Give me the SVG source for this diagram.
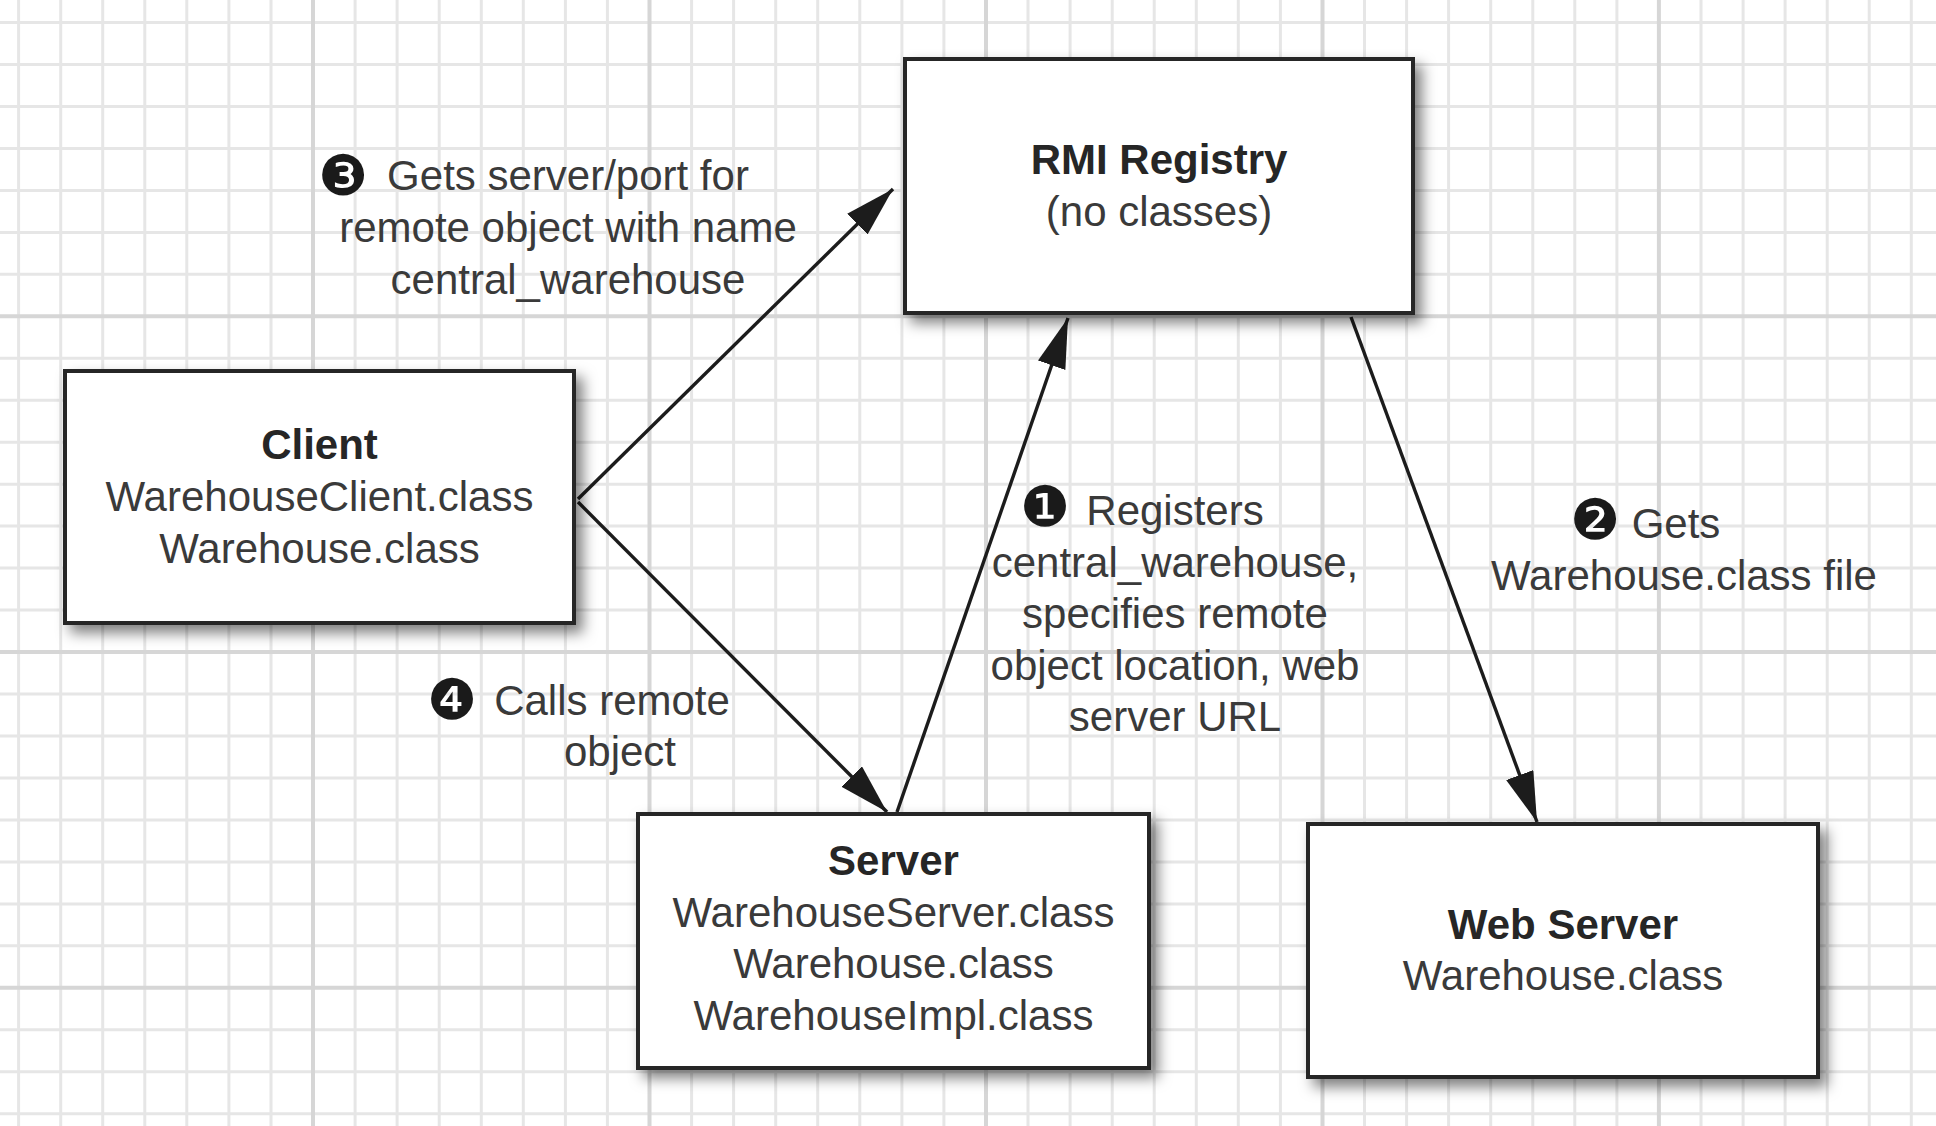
<svg xmlns="http://www.w3.org/2000/svg" width="1936" height="1126" viewBox="0 0 1936 1126">
<style>
.minor{stroke:#e6e6e6;stroke-width:3;fill:none}
.major{stroke:#d6d6d6;stroke-width:4;fill:none}
.box{fill:#ffffff;stroke:#262626;stroke-width:4}
.t{font-family:"Liberation Sans",Arial,Helvetica,sans-serif;font-size:42px;fill:#3a3a3a;text-anchor:middle}
.b{font-weight:bold;fill:#262626}
.num{font-family:"DejaVu Sans",sans-serif;font-size:56px;fill:#1a1a1a;text-anchor:middle}
.arrow{stroke:#1c1c1c;stroke-width:3.4;fill:none;marker-end:url(#ah)}
</style>
<defs>
<marker id="ah" markerUnits="userSpaceOnUse" markerWidth="52" markerHeight="30" refX="50" refY="14.5" orient="auto">
<path d="M0,0 L50,14.5 L0,29 z" fill="#1c1c1c"/>
</marker>
<filter id="sh" x="-10%" y="-10%" width="130%" height="130%">
<feDropShadow dx="7" dy="8" stdDeviation="7" flood-color="#000" flood-opacity="0.5"/>
</filter>
</defs>
<rect x="0" y="0" width="1936" height="1126" fill="#ffffff"/>
<g id="grid">
<path class="minor" d="M18.6,0V1126M60.7,0V1126M102.7,0V1126M144.8,0V1126M186.8,0V1126M228.9,0V1126M271,0V1126M355.1,0V1126M397.1,0V1126M439.2,0V1126M481.3,0V1126M523.3,0V1126M565.4,0V1126M607.4,0V1126M691.6,0V1126M733.6,0V1126M775.7,0V1126M817.7,0V1126M859.8,0V1126M901.9,0V1126M943.9,0V1126M1028,0V1126M1070.1,0V1126M1112.2,0V1126M1154.2,0V1126M1196.3,0V1126M1238.3,0V1126M1280.4,0V1126M1364.5,0V1126M1406.6,0V1126M1448.6,0V1126M1490.7,0V1126M1532.8,0V1126M1574.8,0V1126M1616.9,0V1126M1701,0V1126M1743.1,0V1126M1785.1,0V1126M1827.2,0V1126M1869.2,0V1126M1911.3,0V1126"/>
<path class="minor" d="M0,22.5H1936M0,64.5H1936M0,106.4H1936M0,148.4H1936M0,190.4H1936M0,232.4H1936M0,274.3H1936M0,358.3H1936M0,400.2H1936M0,442.2H1936M0,484.2H1936M0,526.1H1936M0,568.1H1936M0,610.1H1936M0,694H1936M0,736H1936M0,778H1936M0,819.9H1936M0,861.9H1936M0,903.9H1936M0,945.8H1936M0,1029.8H1936M0,1071.8H1936M0,1113.7H1936"/>
<path class="major" d="M313,0V1126M649.5,0V1126M986,0V1126M1322.5,0V1126M1658.9,0V1126M0,316.3H1936M0,652.1H1936M0,987.8H1936"/>
</g>
<g id="connectors">
<line id="c3" class="arrow" x1="578" y1="499" x2="893" y2="189"/>
<line id="c4" class="arrow" x1="578" y1="502" x2="887" y2="812"/>
<line id="c1" class="arrow" x1="897" y1="812" x2="1068" y2="318"/>
<line id="c2" class="arrow" x1="1351" y1="317" x2="1537" y2="822"/>
</g>
<g id="rmi">
<rect class="box" x="905" y="59" width="508" height="254" filter="url(#sh)"/>
<text class="t b" x="1159" y="174">RMI Registry</text>
<text class="t" x="1159" y="226">(no classes)</text>
</g>
<g id="client">
<rect class="box" x="65" y="371" width="509" height="252" filter="url(#sh)"/>
<text class="t b" x="319.5" y="459">Client</text>
<text class="t" x="319.5" y="511">WarehouseClient.class</text>
<text class="t" x="319.5" y="563">Warehouse.class</text>
</g>
<g id="server">
<rect class="box" x="638" y="814" width="511" height="254" filter="url(#sh)"/>
<text class="t b" x="893.5" y="875">Server</text>
<text class="t" x="893.5" y="927">WarehouseServer.class</text>
<text class="t" x="893.5" y="978">Warehouse.class</text>
<text class="t" x="893.5" y="1030">WarehouseImpl.class</text>
</g>
<g id="webserver">
<rect class="box" x="1308" y="824" width="510" height="253" filter="url(#sh)"/>
<text class="t b" x="1563" y="939">Web Server</text>
<text class="t" x="1563" y="990">Warehouse.class</text>
</g>
<g id="label3">
<text class="num" x="343" y="195">❸</text>
<text class="t" x="568" y="190">Gets server/port for</text>
<text class="t" x="568" y="242">remote object with name</text>
<text class="t" x="568" y="294">central_warehouse</text>
</g>
<g id="label1">
<text class="num" x="1045" y="526">❶</text>
<text class="t" x="1175" y="525">Registers</text>
<text class="t" x="1175" y="577">central_warehouse,</text>
<text class="t" x="1175" y="628">specifies remote</text>
<text class="t" x="1175" y="680">object location, web</text>
<text class="t" x="1175" y="731">server URL</text>
</g>
<g id="label2">
<text class="num" x="1595" y="539">❷</text>
<text class="t" x="1676" y="538">Gets</text>
<text class="t" x="1684" y="590">Warehouse.class file</text>
</g>
<g id="label4">
<text class="num" x="452" y="719">❹</text>
<text class="t" x="612" y="715">Calls remote</text>
<text class="t" x="620" y="766">object</text>
</g>
</svg>
